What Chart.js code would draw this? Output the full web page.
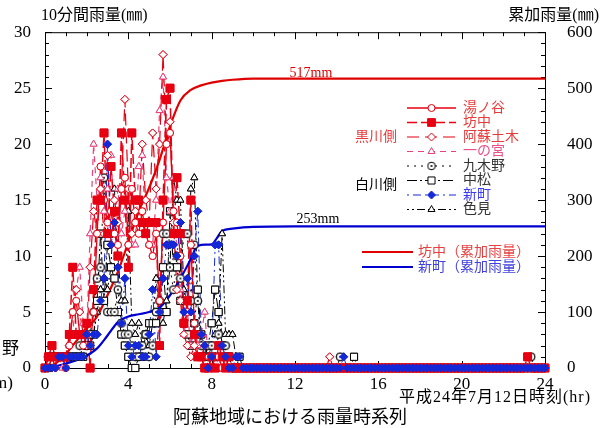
<!DOCTYPE html>
<html>
<head>
<meta charset="utf-8">
<script src="https://cdn.jsdelivr.net/npm/chart.js@4.4.1/dist/chart.umd.min.js"></script>
<style>
  html, body { margin: 0; padding: 0; background: #fff; }
  #wrap { width: 610px; height: 428px; position: relative; }
</style>
</head>
<body>
<div id="wrap"><canvas id="c" width="610" height="428"></canvas></div>
<script>
const FONT = '"Liberation Serif", "Noto Sans CJK JP", serif';

// 10-minute rainfall (mm), one value every 10 minutes from 0:00 to 24:00 (four hours per line)
const yunotani = [
  0,0,1,1,1,1,  0,2,5,6,3,2,  3,2,5,12,18,15,  13,14,12,11,16,17,
  11,16,13,12,14,12,  11,10,12,6,13,20,  21,14,13,10,4,5,  11,4,1,1,0,0,
  0,1,1,0,1,0,  0,0,0,0,0,0,  0,0,0,0,0,0,  0,0,0,0,0,0,
  0,0,0,0,0,0,  0,0,0,0,0,0,  0,0,0,0,0,0,  0,0,0,0,0,0,
  0,0,0,0,0,0,  0,0,0,0,0,0,  0,0,0,0,0,0,  0,0,0,0,0,0,
  0,0,0,0,0,0,  0,0,0,0,0,0,  0,0,0,0,0,0,  0,0,0,0,0,0,
  0
];
const bochu = [
  0,1,2,1,1,1,  1,3,9,3,3,3,  4,0,7,15,15,21,  12,18,14,10,21,15,
  9,21,15,15,13,12,  13,13,13,2,15,24,  25,12,17,12,4,6,  15,3,1,1,0,0,
  1,0,2,1,0,1,  0,0,0,0,0,0,  0,0,0,0,0,0,  0,0,0,0,0,0,
  0,0,0,0,0,0,  0,0,0,0,0,0,  0,0,0,0,0,0,  0,0,0,0,0,0,
  0,0,0,0,0,0,  0,0,0,0,0,0,  0,0,0,0,0,0,  0,0,0,0,0,0,
  0,0,0,0,0,0,  0,0,0,0,0,0,  0,0,0,0,0,0,  0,1,0,0,0,0,
  0
];
const asoDoboku = [
  0,1,1,0,1,1,  0,2,5,7,5,3,  2,9,14,12,16,12,  19,11,15,13,16,24,
  16,12,14,13,20,15,  13,21,16,20,28,20,  22,13,7,6,3,2,  1,2,1,1,2,1,
  0,0,0,0,0,0,  0,0,0,0,0,0,  0,0,0,0,0,0,  0,0,0,0,0,0,
  0,0,0,0,0,0,  0,0,0,0,1,0,  0,0,0,0,0,0,  0,0,0,0,0,0,
  0,0,0,0,0,0,  0,0,0,0,0,0,  0,0,0,0,0,0,  0,0,0,0,0,0,
  0,0,0,0,0,0,  0,0,0,0,0,0,  0,0,0,0,0,0,  0,0,0,0,0,0,
  0
];
const ichinomiya = [
  0,0,1,1,1,0,  1,2,3,7,9,4,  3,12,20,15,17,14,  16,19,13,16,12,14,
  16,11,11,18,19,12,  11,11,15,23,26,17,  14,17,10,7,3,5,  2,4,2,3,5,1,
  1,0,1,0,0,0,  0,0,0,0,0,0,  0,0,0,0,0,0,  0,0,0,0,0,0,
  0,0,0,0,0,0,  0,0,0,0,0,0,  0,0,0,0,0,0,  0,0,0,0,0,0,
  0,0,0,0,0,0,  0,0,0,0,0,0,  0,0,0,0,0,0,  0,0,0,0,0,0,
  0,0,0,0,0,0,  0,0,0,0,0,0,  0,0,0,0,0,0,  0,0,0,0,0,0,
  0
];
const kukino = [
  0,1,1,1,1,1,  1,1,1,1,2,3,  2,3,5,8,9,17,  5,5,5,7,4,3,
  3,2,1,1,2,3,  1,2,5,6,12,12,  9,7,10,8,12,12,  6,11,6,2,1,1,
  2,1,3,2,2,1,  0,0,0,0,0,0,  0,0,0,0,0,0,  0,0,0,0,0,0,
  0,0,0,0,0,0,  0,0,0,0,0,0,  0,1,0,0,0,0,  0,0,0,0,0,0,
  0,0,0,0,0,0,  0,0,0,0,0,0,  0,0,0,0,0,0,  0,0,0,0,0,0,
  0,0,0,0,0,0,  0,0,0,0,0,0,  0,0,0,0,0,0,  0,0,1,0,0,0,
  0
];
const nakamatsu = [
  0,0,1,1,1,1,  1,1,1,1,1,1,  2,2,3,6,12,6,  11,9,8,5,3,2,
  1,0,0,1,1,3,  4,4,4,5,9,5,  14,9,9,6,4,3,  2,4,7,3,1,2,
  4,7,5,2,1,1,  0,0,1,0,0,0,  0,0,0,0,0,0,  0,0,0,0,0,0,
  0,0,0,0,0,0,  0,0,0,0,0,0,  0,0,0,0,0,1,  0,0,0,0,0,0,
  0,0,0,0,0,0,  0,0,0,0,0,0,  0,0,0,0,0,0,  0,0,0,0,0,0,
  0,0,0,0,0,0,  0,0,0,0,0,0,  0,0,0,0,0,0,  0,0,0,0,0,0,
  0
];
const shinmachi = [
  0,0,0,0,1,1,  0,1,1,1,1,1,  3,2,3,3,6,8,  20,11,13,9,4,8,
  2,1,2,2,1,1,  3,7,1,5,8,11,  11,11,10,13,5,8,  5,10,14,3,2,0,
  1,11,11,2,1,0,  0,1,1,0,0,0,  0,0,0,0,0,0,  0,0,0,0,0,0,
  0,0,0,0,0,0,  0,0,0,0,0,0,  0,0,1,0,0,0,  0,0,0,0,0,0,
  0,0,0,0,0,0,  0,0,0,0,0,0,  0,0,0,0,0,0,  0,0,0,0,0,0,
  0,0,0,0,0,0,  0,0,0,0,0,0,  0,0,0,0,0,0,  0,0,0,0,0,0,
  0
];
const shikami = [
  0,0,1,1,1,1,  1,1,1,1,1,2,  2,2,3,5,7,8,  7,9,16,10,6,6,
  14,4,3,4,2,3,  2,4,8,5,4,6,  9,17,15,15,7,5,  16,17,6,2,2,1,
  2,3,4,12,3,3,  3,1,0,0,0,0,  0,0,0,0,0,0,  0,0,0,0,0,0,
  0,0,0,0,0,0,  0,0,0,0,0,0,  0,0,0,0,0,0,  0,0,0,0,0,0,
  0,0,0,0,0,0,  0,0,0,0,0,0,  0,0,0,0,0,0,  0,0,0,0,0,0,
  0,0,0,0,0,0,  0,0,0,0,0,0,  0,0,0,0,0,0,  0,0,0,0,0,0,
  0
];

// cumulative rainfall (mm)
const cumHours     = [0, 0.5, 1, 1.5, 2, 2.5, 3, 3.5, 4, 4.5, 5, 5.5, 6, 6.5, 7, 7.5, 8, 8.5, 9, 10, 12, 16, 20, 24];
const cumBochu     = [0, 8, 25, 48, 70, 92, 130, 172, 225, 280, 322, 372, 432, 478, 497, 505, 510, 513, 515, 517, 517, 517, 517, 517];
const cumShinmachiHours = [0, 0.5, 1, 1.5, 2, 2.5, 3, 3.5, 4, 4.5, 5, 5.5, 6, 6.5, 7, 7.25, 7.5, 8, 8.25, 8.5, 9, 10, 12, 16, 20, 24];
const cumShinmachi = [0, 3, 8, 14, 22, 35, 58, 82, 92, 96, 100, 108, 130, 160, 195, 215, 220, 221, 232, 245, 249, 252, 253, 253, 253, 253];

const xTicks = [0, 4, 8, 12, 16, 20, 24];

// small ⊙ symbol for 九木野
function dotCircle() {
  const c = document.createElement('canvas');
  c.width = 10; c.height = 10;
  const g = c.getContext('2d');
  g.fillStyle = '#fff';
  g.beginPath(); g.arc(5, 5, 3.8, 0, Math.PI * 2); g.fill();
  g.strokeStyle = '#000'; g.lineWidth = 1;
  g.stroke();
  g.fillStyle = '#000';
  g.beginPath(); g.arc(5, 5, 1, 0, Math.PI * 2); g.fill();
  return c;
}
const DOTC = dotCircle();

const RED = '#e60012';
const PINK = '#e8407a';
const BLUE = '#1428d8';

const series = [
  { name: '湯ノ谷', data: yunotani, color: RED, dash: [], style: 'circle', r: 3.5, fill: '#fff', lw: 1.3, text: '#e83a3a' },
  { name: '坊中', data: bochu, color: RED, dash: [10, 4], style: 'rect', r: 5.5, fill: RED, lw: 1.5, text: '#e83a3a' },
  { name: '阿蘇土木', data: asoDoboku, color: RED, dash: [12, 6], style: 'rectRot', r: 4, fill: '#fff', lw: 1.2, text: '#e83a3a' },
  { name: '一の宮', data: ichinomiya, color: PINK, dash: [6, 5], style: 'triangle', r: 4, fill: '#fff', lw: 1.2, text: '#e8508a' },
  { name: '九木野', data: kukino, color: '#000', dash: [2, 5], style: DOTC, r: 4, fill: '#fff', lw: 1, text: '#333' },
  { name: '中松', data: nakamatsu, color: '#000', dash: [10, 3, 2, 3], style: 'rect', r: 5, fill: '#fff', lw: 1, text: '#333' },
  { name: '新町', data: shinmachi, color: BLUE, dash: [2, 4, 8, 4], style: 'rectRot', r: 4, fill: BLUE, lw: 1, text: '#3c3cf0' },
  { name: '色見', data: shikami, color: '#000', dash: [2, 3, 2, 3, 8, 3], style: 'triangle', r: 4, fill: '#fff', lw: 1, text: '#333' }
];
// stacking of the markers, bottom first
const markerStack = ['色見', '中松', '九木野', '一の宮', '阿蘇土木', '湯ノ谷', '坊中', '新町'];

const datasets = series.map(s => ({
  label: s.name,
  data: s.data.map((v, i) => ({ x: i / 6, y: v })),
  yAxisID: 'y',
  borderColor: s.color,
  borderWidth: s.lw,
  borderDash: s.dash,
  pointStyle: s.style,
  pointRadius: s.r,
  pointBorderColor: s.color,
  pointBackgroundColor: s.fill,
  pointBorderWidth: 1,
  clip: false,
  order: 8 - markerStack.indexOf(s.name)
}));
datasets.push({
  label: '坊中（累加雨量）',
  data: cumHours.map((h, i) => ({ x: h, y: cumBochu[i] })),
  yAxisID: 'y2', borderColor: '#e00000', borderWidth: 2.2, pointRadius: 0,
  cubicInterpolationMode: 'monotone', order: 0
});
datasets.push({
  label: '新町（累加雨量）',
  data: cumShinmachiHours.map((h, i) => ({ x: h, y: cumShinmachi[i] })),
  yAxisID: 'y2', borderColor: '#0000d0', borderWidth: 2.2, pointRadius: 0,
  cubicInterpolationMode: 'monotone', order: 0
});

function drawMarker(ctx, s, x, y) {
  ctx.save();
  ctx.setLineDash([]);
  if (typeof s.style !== 'string') {
    ctx.drawImage(s.style, x - 5, y - 5);
  } else {
    ctx.strokeStyle = s.color; ctx.fillStyle = s.fill; ctx.lineWidth = 1;
    Chart.helpers.drawPoint(ctx, { pointStyle: s.style, radius: s.r, borderWidth: 1, rotation: 0 }, x, y);
  }
  ctx.restore();
}

// markers of the 10-minute series are stamped again over the lines,
// using the point elements laid out by the chart's scales
const markers = {
  id: 'markers',
  afterDatasetsDraw(chart) {
    const ctx = chart.ctx;
    ctx.save();
    ctx.setLineDash([]);
    markerStack.forEach(name => {
      const idx = series.findIndex(s => s.name === name);
      const meta = chart.getDatasetMeta(idx);
      meta.data.forEach(pt => {
        const o = pt.options;
        ctx.strokeStyle = o.borderColor;
        ctx.fillStyle = o.backgroundColor;
        ctx.lineWidth = o.borderWidth;
        Chart.helpers.drawPoint(ctx, o, pt.x, pt.y);
      });
    });
    ctx.restore();
  }
};

const decor = {
  id: 'decor',
  beforeDatasetsDraw(chart) {
    const { ctx, chartArea: a, scales } = chart;
    ctx.save();
    ctx.strokeStyle = '#000';
    ctx.lineWidth = 1;
    ctx.strokeRect(a.left + 0.5, a.top + 0.5, a.right - a.left, a.bottom - a.top);
    ctx.beginPath();
    for (let h = 0; h <= 24; h++) {
      const x = Math.round(scales.x.getPixelForValue(h)) + 0.5;
      const len = h % 4 === 0 ? 7 : 4;
      ctx.moveTo(x, a.bottom); ctx.lineTo(x, a.bottom - len);
      ctx.moveTo(x, a.top); ctx.lineTo(x, a.top + len);
    }
    for (let v = 0; v <= 30; v++) {
      const y = Math.round(scales.y.getPixelForValue(v)) + 0.5;
      const len = v % 5 === 0 ? 7 : 4;
      ctx.moveTo(a.left, y); ctx.lineTo(a.left + len, y);
    }
    for (let v = 0; v <= 600; v += 20) {
      const y = Math.round(scales.y2.getPixelForValue(v)) + 0.5;
      const len = v % 100 === 0 ? 7 : 4;
      ctx.moveTo(a.right, y); ctx.lineTo(a.right - len, y);
    }
    ctx.stroke();
    ctx.restore();
  },
  afterDraw(chart) {
    const { ctx } = chart;
    ctx.save();
    ctx.textBaseline = 'middle';
    const text = (t, x, y, size, color, align, spacing) => {
      ctx.font = size + 'px ' + FONT;
      ctx.fillStyle = color;
      ctx.textAlign = align || 'left';
      ctx.letterSpacing = spacing || '0px';
      ctx.fillText(t, x, y);
      ctx.letterSpacing = '0px';
    };
    text('10分間雨量(㎜)', 41, 16, 16, '#000');
    text('累加雨量(㎜)', 599, 16, 16, '#000', 'right');
    text('517mm', 311, 73, 14, '#e00000', 'center');
    text('253mm', 318, 219, 14, '#000', 'center');
    text('黒川側', 376, 137, 14, '#e83a3a', 'center');
    text('白川側', 376, 185, 14, '#000', 'center');
    text('平成24年7月12日時刻(hr)', 591, 398, 16, '#000', 'right', '1px');
    text('阿蘇地域における雨量時系列', 290, 418, 18, '#000', 'center');
    text('野', 2, 350, 17, '#000');
    text('(mm)', 13, 384, 17, '#000', 'right');

    // station legend
    const rowY = [108, 122.5, 137, 151.5, 166, 180.5, 195, 209.5];
    series.forEach((s, i) => {
      const y = rowY[i];
      ctx.save();
      ctx.strokeStyle = s.color;
      ctx.lineWidth = s.lw;
      ctx.setLineDash(s.dash);
      ctx.beginPath();
      ctx.moveTo(407, y); ctx.lineTo(456, y);
      ctx.stroke();
      ctx.restore();
      drawMarker(ctx, s, 431.5, y);
      text(s.name, 463, y, 14, s.text);
    });

    // cumulative legend
    ctx.lineWidth = 2.2;
    ctx.strokeStyle = '#e00000';
    ctx.beginPath(); ctx.moveTo(362, 252); ctx.lineTo(413, 252); ctx.stroke();
    ctx.strokeStyle = '#0000d0';
    ctx.beginPath(); ctx.moveTo(362, 267); ctx.lineTo(413, 267); ctx.stroke();
    text('坊中（累加雨量）', 418, 252, 14, '#e84040');
    text('新町（累加雨量）', 418, 267, 14, '#4040e0');
    ctx.restore();
  }
};

const tickFont = { family: FONT, size: 17 };

new Chart(document.getElementById('c'), {
  type: 'line',
  data: { datasets },
  options: {
    responsive: false,
    animation: false,
    layout: { padding: { top: 32, left: 0, right: 0, bottom: 0 } },
    plugins: { legend: { display: false }, tooltip: { enabled: false } },
    scales: {
      x: {
        type: 'linear', min: 0, max: 24,
        afterBuildTicks(s) { s.ticks = xTicks.map(v => ({ value: v })); },
        ticks: { font: tickFont, color: '#000', padding: 6, maxRotation: 0, autoSkip: false },
        grid: { display: false, drawTicks: false },
        border: { display: false },
        afterFit(s) { s.height = 60; }
      },
      y: {
        position: 'left', min: 0, max: 30,
        ticks: { stepSize: 5, font: tickFont, color: '#000', padding: 14 },
        grid: { display: false, drawTicks: false },
        border: { display: false },
        afterFit(s) { s.width = 45; }
      },
      y2: {
        position: 'right', min: 0, max: 600,
        ticks: { stepSize: 100, font: tickFont, color: '#000', padding: 22 },
        grid: { display: false, drawTicks: false },
        border: { display: false },
        afterFit(s) { s.width = 65; }
      }
    }
  },
  plugins: [decor, markers]
});
</script>
</body>
</html>
